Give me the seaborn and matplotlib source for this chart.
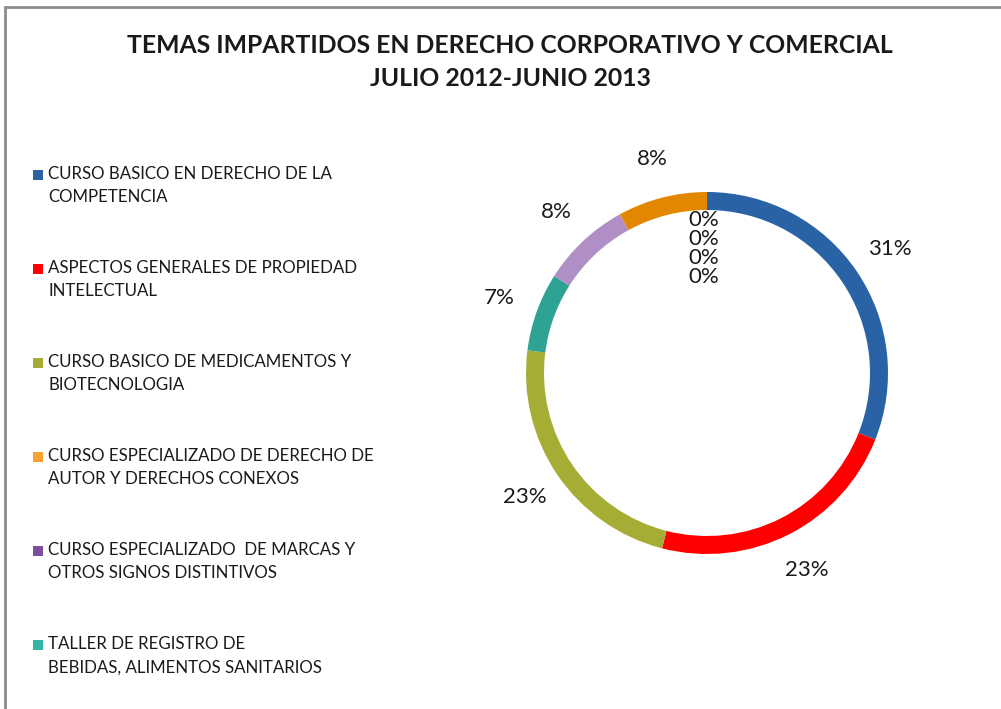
import numpy as np
import matplotlib
matplotlib.use("Agg")
import matplotlib.pyplot as plt
from matplotlib.patches import Rectangle
import seaborn as sns

sns.set_theme(style="white")
plt.rcParams['font.family'] = ['Lato', 'DejaVu Sans']

# ---- data ----
title = "TEMAS IMPARTIDOS EN DERECHO CORPORATIVO Y COMERCIAL\nJULIO 2012-JUNIO 2013"
legend_labels = [
    "CURSO BASICO EN DERECHO DE LA\nCOMPETENCIA",
    "ASPECTOS GENERALES DE PROPIEDAD\nINTELECTUAL",
    "CURSO BASICO DE MEDICAMENTOS Y\nBIOTECNOLOGIA",
    "CURSO ESPECIALIZADO DE DERECHO DE\nAUTOR Y DERECHOS CONEXOS",
    "CURSO ESPECIALIZADO  DE MARCAS Y\nOTROS SIGNOS DISTINTIVOS",
    "TALLER DE REGISTRO DE\nBEBIDAS, ALIMENTOS SANITARIOS",
]
legend_colors = ["#2B63A6", "#FF0000", "#A5AC36", "#F9A12E", "#7B4F9E", "#33B5A5"]

# ring order (clockwise from top) and values in percent
ring_values = [31, 23, 23, 7, 8, 8, 0, 0, 0, 0]
ring_colors = ["#2A63A5", "#FF0000", "#A6AD35", "#2FA393", "#B08FC7", "#E38700",
               "#FFFFFF", "#FFFFFF", "#FFFFFF", "#FFFFFF"]

W, H = 1001, 709
fig = plt.figure(figsize=(W / 100, H / 100), dpi=100)

# frame
fig.patches.append(Rectangle((5 / W, -0.1), 1.2, (H - 7) / H + 0.1, transform=fig.transFigure,
                             fill=False, edgecolor="#8C8C8C", linewidth=2.0))

# title
fig.text(510 / W, 1 - 62 / H, title, ha="center", va="center", fontsize=17.8,
         fontweight="bold", color="#1A1A1A", linespacing=1.5)

# donut
R = 181
cx, cy = 707, 373
span = 2.8 * R
ax = fig.add_axes([(cx - span / 2) / W, (H - cy - span / 2) / H, span / W, span / H])
wedges, _ = ax.pie(ring_values, colors=ring_colors, startangle=90, counterclock=False,
                   wedgeprops=dict(width=18 / R, linewidth=0))
ax.set_xlim(-1.4, 1.4)
ax.set_ylim(-1.4, 1.4)
ax.set_aspect("equal")
ax.axis("off")

zero_k = 0
for w, v in zip(wedges, ring_values):
    if v > 0:
        ang = np.deg2rad((w.theta1 + w.theta2) / 2)
        r = 1.22
        ax.text(r * np.cos(ang), r * np.sin(ang), f"{v}%", ha="center", va="center",
                fontsize=16, color="#1A1A1A")
    else:
        ax.text(-0.02, 0.845 - zero_k * 0.105, f"{v}%", ha="center", va="center",
                fontsize=16, color="#1A1A1A")
        zero_k += 1

# legend
y0, dy = 175, 94
for i, (lab, col) in enumerate(zip(legend_labels, legend_colors)):
    y = y0 + i * dy
    fig.patches.append(Rectangle((33 / W, 1 - (y + 5) / H), 10 / W, 10 / H,
                                 transform=fig.transFigure, facecolor=col, edgecolor="none"))
    fig.text(48 / W, 1 - (y - 9) / H, lab, ha="left", va="top", fontsize=12.2,
             color="#1A1A1A", linespacing=1.55)

fig.savefig("out.png", dpi=100)
